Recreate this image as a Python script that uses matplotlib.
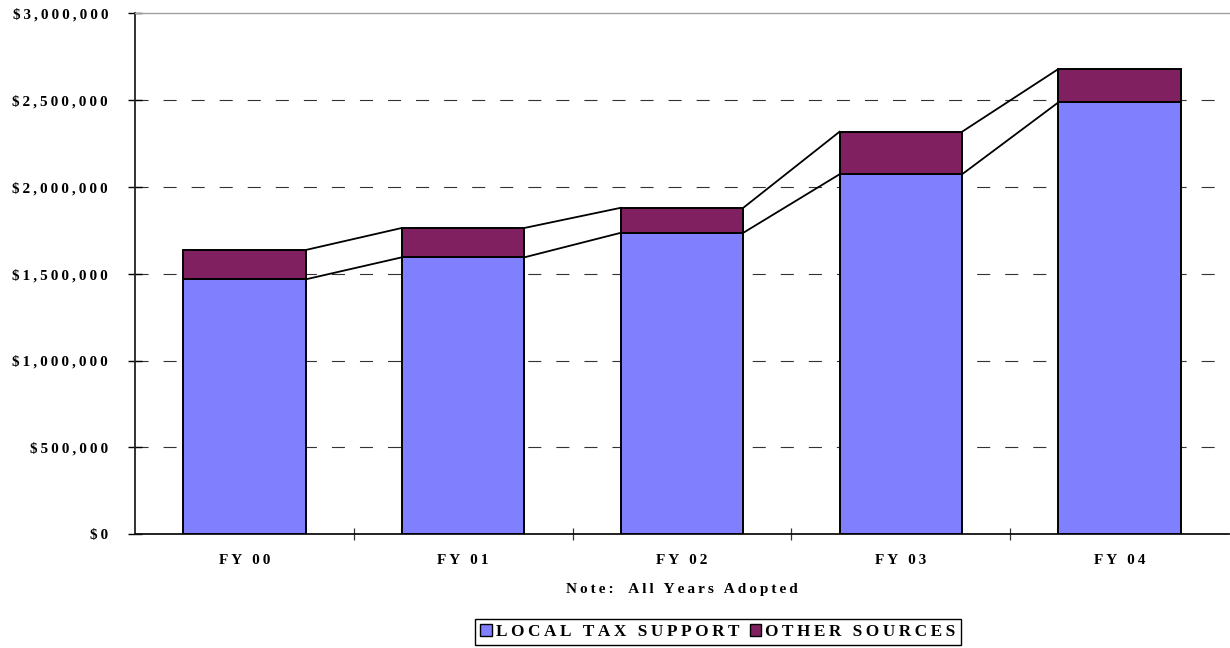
import matplotlib
matplotlib.use("Agg")
import matplotlib.pyplot as plt
from matplotlib.patches import Patch
from matplotlib.ticker import FixedLocator, FuncFormatter

# Revenue by fiscal year (adopted budgets)
years = ["FY 00", "FY 01", "FY 02", "FY 03", "FY 04"]
local_tax = [1468000, 1595000, 1736000, 2073000, 2487000]
other_sources = [169000, 169000, 144000, 245000, 192000]
series_names = ["LOCAL TAX SUPPORT", "OTHER SOURCES"]
y_ticks = [0, 500000, 1000000, 1500000, 2000000, 2500000, 3000000]

LOCAL_COLOR = "#8080FF"
OTHER_COLOR = "#802060"
FONT = ["Liberation Serif", "DejaVu Serif"]
THIN = "\u2009"


def track(s):
    """Letter-spaced version of a label."""
    return THIN.join(s)


plt.rcParams["font.family"] = FONT
plt.rcParams["font.weight"] = "bold"
plt.rcParams["lines.scale_dashes"] = False

fig = plt.figure(figsize=(12.3, 6.48), dpi=100)
W, H = 1230, 648
left, right, top, bottom = 135, 1229, 13.3, 534.3
ax = fig.add_axes([left / W, 1 - bottom / H, (right - left) / W, (bottom - top) / H])

x = list(range(len(years)))
bar_w = 0.56
totals = [a + b for a, b in zip(local_tax, other_sources)]

ax.bar(x, local_tax, width=bar_w, color=LOCAL_COLOR, edgecolor="black",
       linewidth=1.4, zorder=3)
ax.bar(x, other_sources, width=bar_w, bottom=local_tax, color=OTHER_COLOR,
       edgecolor="black", linewidth=1.4, zorder=3)

# series lines joining the bar tops
for i in range(len(years) - 1):
    xs = [x[i] + bar_w / 2, x[i + 1] - bar_w / 2]
    ax.plot(xs, [local_tax[i], local_tax[i + 1]], color="black", lw=1.3, zorder=4)
    ax.plot(xs, [totals[i], totals[i + 1]], color="black", lw=1.3, zorder=4)

ax.set_xlim(-0.5, len(years) - 0.5)
ax.set_ylim(0, 3000000)

# dashed horizontal gridlines
for yv in y_ticks[1:-1]:
    ax.axhline(yv, color="#333333", lw=0.8, linestyle=(0, (9.4, 10.8)), zorder=1)

ax.spines["right"].set_visible(False)
ax.spines["top"].set_color("#a0a0a0")
ax.spines["top"].set_linewidth(1.0)
ax.spines["left"].set_color("#222222")
ax.spines["left"].set_linewidth(1.3)
ax.spines["bottom"].set_color("#111111")
ax.spines["bottom"].set_linewidth(1.3)

ax.yaxis.set_major_locator(FixedLocator(y_ticks))
ax.yaxis.set_major_formatter(FuncFormatter(lambda v, p: track("${:,.0f}".format(v))))
ax.tick_params(axis="y", direction="inout", length=10, width=1.0, pad=14.4,
               labelsize=11, colors="black")

ax.set_xticks(x)
ax.set_xticklabels([track(y) for y in years])
ax.set_xticks([i - 0.5 for i in range(1, len(years))], minor=True)
ax.tick_params(axis="x", which="major", length=0, pad=14, labelsize=11)
ax.tick_params(axis="x", which="minor", direction="inout", length=8, width=0.9,
               color="#333333")
for lab in ax.get_yticklabels() + ax.get_xticklabels():
    lab.set_fontweight("bold")

fig.text((left + right) / 2 / W, 1 - 589 / H,
         track("Note:") + "    " + track("All Years Adopted"),
         ha="center", va="center", fontsize=11, fontweight="bold")

handles = [Patch(facecolor=LOCAL_COLOR, edgecolor="black", linewidth=1.0),
           Patch(facecolor=OTHER_COLOR, edgecolor="black", linewidth=1.0)]
leg = fig.legend(handles, [track(n) for n in series_names], loc="center",
                 bbox_to_anchor=(718 / W, 1 - 632 / H), ncol=2, frameon=True,
                 fancybox=False, edgecolor="black", framealpha=1,
                 prop={"family": FONT, "weight": "bold", "size": 12.4},
                 handlelength=0.65, handleheight=0.65, handletextpad=0.25,
                 columnspacing=0.6, borderpad=0.3, borderaxespad=0)
leg.get_frame().set_linewidth(1.0)

fig.savefig("out.png", dpi=100)
